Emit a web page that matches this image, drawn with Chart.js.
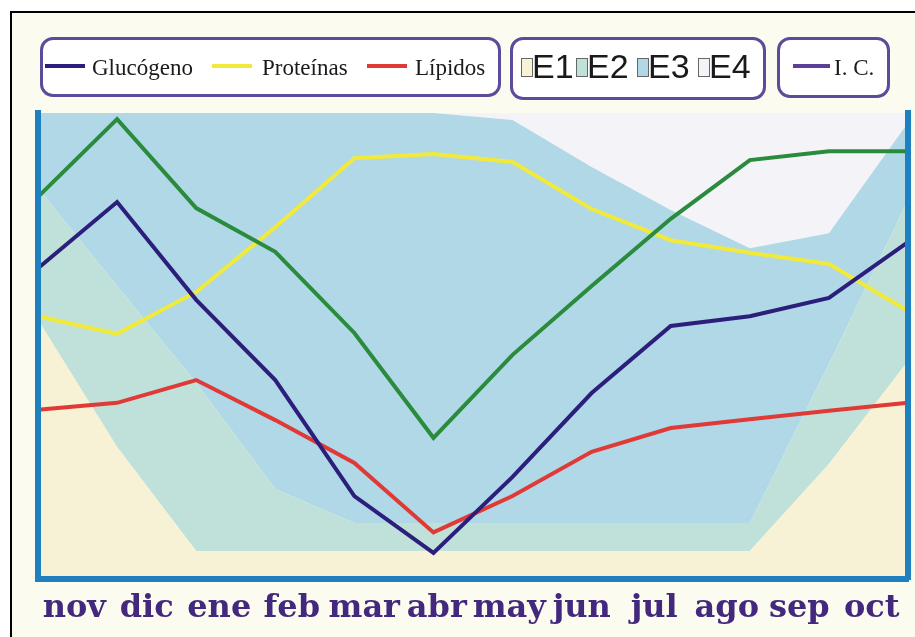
<!DOCTYPE html>
<html>
<head>
<meta charset="utf-8">
<script src="https://cdn.jsdelivr.net/npm/chart.js@4.4.1/dist/chart.umd.min.js"></script>
<style>
    html, body { margin: 0; padding: 0; background: #fff; overflow: hidden; }
    body { width: 915px; height: 637px; position: relative; }
    .frame {
        position: absolute; left: 10px; top: 11px; width: 930px; height: 660px;
        border: 2px solid #000; background: #fcfbef;
    }
    #chart { position: absolute; left: 0; top: 0; }
    .box {
        position: absolute; box-sizing: border-box;
        border: 3px solid #5e4a9b; border-radius: 13px; background: #fff;
    }
    .ln { position: absolute; height: 4px; }
    .txt { position: absolute; line-height: 1; white-space: nowrap; color: #1a1a1a; }
    .serif { font-family: "Liberation Serif", serif; font-size: 23px; }
    .sans { font-family: "Liberation Sans", Arial, sans-serif; font-size: 34px; }
    .sw { position: absolute; width: 10px; height: 17px; border: 1px solid #666; }
</style>
</head>
<body>
<div class="frame"></div>
<canvas id="chart" width="915" height="637"></canvas>

<div class="box" style="left:40px; top:37px; width:461px; height:60px;"></div>
<div class="box" style="left:510px; top:37px; width:256px; height:63px;"></div>
<div class="box" style="left:777px; top:37px; width:113px; height:61px;"></div>
<div id="legend"></div>

<script>
const MONTHS = ['nov', 'dic', 'ene', 'feb', 'mar', 'abr', 'may', 'jun', 'jul', 'ago', 'sep', 'oct'];

// line series (0-100 scale of the plot height)
const GLUCOGENO = [66.7, 80.9, 59.9, 42.7, 17.8, 5.6, 21.9, 39.9, 54.3, 56.4, 60.3, 72.3];
const PROTEINAS = [56.4, 52.6, 61.6, 75.5, 90.3, 91.2, 89.5, 79.4, 72.7, 70.0, 67.6, 57.5];
const LIPIDOS = [36.3, 37.8, 42.7, 34.1, 24.9, 10.0, 17.8, 27.3, 32.4, 34.3, 36.1, 37.8];
const IC = [82.0, 98.7, 79.6, 70.2, 52.8, 30.3, 48.1, 62.9, 77.3, 89.9, 91.8, 91.8];

// stacked stage bands
const E1 = [55.6, 28.3, 6, 6, 6, 6, 6, 6, 6, 6, 24.7, 46.8];
const E2 = [28.3, 34.6, 36.1, 13.3, 6, 6, 6, 6, 6, 6, 21.4, 34.5];
const E3 = [16.1, 37.1, 57.9, 80.7, 88, 88, 86.5, 76.4, 67.2, 59, 28.1, 16.6];
const E4 = [0, 0, 0, 0, 0, 0, 1.5, 11.6, 20.8, 29, 25.8, 2.1];

const COLORS = {
    navy: '#2c1f7c',
    yellow: '#f2ea3a',
    red: '#e03a36',
    green: '#2a8b3c',
    ic: '#5b3f98',
    axis: '#1f80bf',
    e1: '#f7f2d6',
    e2: '#c0e1da',
    e3: '#b0d8e7',
    e4: '#f4f4f8',
};

// legend (html)
function buildLegend() {
    const lg = document.getElementById('legend');
    const lines = [
        { x: 45, w: 40, c: COLORS.navy, label: 'Glucógeno', tx: 92 },
        { x: 212, w: 40, c: COLORS.yellow, label: 'Proteínas', tx: 262 },
        { x: 367, w: 40, c: COLORS.red, label: 'Lípidos', tx: 415 },
        { x: 793, w: 37, c: COLORS.ic, label: 'I. C.', tx: 834 },
    ];
    let html = '';
    lines.forEach(l => {
        html += `<div class="ln" style="left:${l.x}px; top:64px; width:${l.w}px; background:${l.c}"></div>`;
        html += `<div class="txt serif" style="left:${l.tx}px; top:56px">${l.label}</div>`;
    });
    const stages = [
        { sx: 521, c: COLORS.e1, label: 'E1' },
        { sx: 576, c: COLORS.e2, label: 'E2' },
        { sx: 637, c: COLORS.e3, label: 'E3' },
        { sx: 698, c: COLORS.e4, label: 'E4' },
    ];
    stages.forEach(s => {
        html += `<div class="sw" style="left:${s.sx}px; top:58px; background:${s.c}"></div>`;
        html += `<div class="txt sans" style="left:${s.sx + 11}px; top:49px">${s.label}</div>`;
    });
    lg.innerHTML = html;
}

function lineSet(label, data, color) {
    return {
        label, data,
        borderColor: color,
        borderWidth: 4,
        pointRadius: 0,
        tension: 0,
        fill: false,
        xAxisID: 'xData',
        yAxisID: 'y'
    };
}

function bandSet(label, data, color, fill) {
    return {
        label, data,
        backgroundColor: color,
        borderWidth: 0,
        pointRadius: 0,
        tension: 0,
        fill,
        xAxisID: 'xData',
        yAxisID: 'yArea'
    };
}

const axisBorder = { display: true, color: COLORS.axis, width: 6, z: 1 };

new Chart(document.getElementById('chart'), {
    type: 'line',
    data: {
        labels: MONTHS,
        datasets: [
            lineSet('Glucógeno', GLUCOGENO, COLORS.navy),
            lineSet('I. C.', IC, COLORS.green),
            lineSet('Lípidos', LIPIDOS, COLORS.red),
            lineSet('Proteínas', PROTEINAS, COLORS.yellow),
            bandSet('E1', E1, COLORS.e1, 'origin'),
            bandSet('E2', E2, COLORS.e2, '-1'),
            bandSet('E3', E3, COLORS.e3, '-1'),
            bandSet('E4', E4, COLORS.e4, '-1'),
        ]
    },
    options: {
        responsive: false,
        animation: false,
        devicePixelRatio: 1,
        layout: { padding: { left: 38, right: 7, top: 113, bottom: 0 } },
        plugins: {
            legend: { display: false },
            tooltip: { enabled: false }
        },
        scales: {
            x: {
                type: 'category',
                offset: true,
                border: axisBorder,
                grid: { display: false, drawTicks: false },
                afterFit: scale => { scale.height = 58; },
                ticks: {
                    color: '#43297d',
                    padding: 10,
                    autoSkip: false,
                    maxRotation: 0,
                    font: { family: 'DejaVu Serif', size: 32, weight: 'bold', lineHeight: 1.2 }
                }
            },
            xData: {
                type: 'category',
                offset: false,
                display: false
            },
            y: {
                position: 'left',
                min: 0, max: 100,
                border: axisBorder,
                grid: { display: false, drawTicks: false },
                ticks: { display: false }
            },
            yR: {
                position: 'right',
                display: true,
                min: 0, max: 100,
                border: axisBorder,
                grid: { display: false, drawTicks: false },
                ticks: { display: false }
            },
            yArea: {
                display: false,
                stacked: true,
                min: 0, max: 100
            }
        }
    }
});

buildLegend();
</script>
</body>
</html>
